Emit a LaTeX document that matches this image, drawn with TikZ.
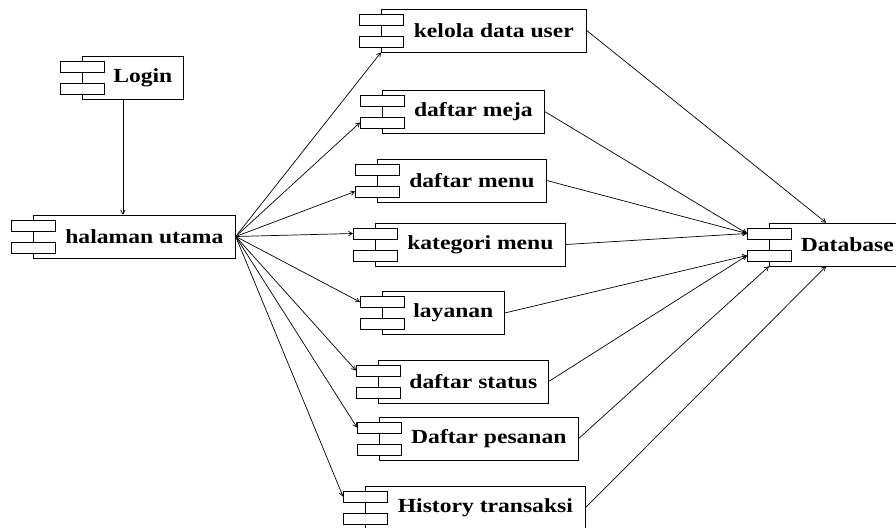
\documentclass[tikz,border=0pt]{standalone}
\usepackage{fontspec}
\newfontfamily\compfont[FakeStretch=1.18]{Liberation Serif}
\usepackage{tikz}
\usetikzlibrary{arrows}

\begin{document}
\begin{tikzpicture}[->,>=angle 60,x=1pt,y=-1pt,line width=0.7pt]

  \tikzstyle{comp}=[draw,fill=white,anchor=west,minimum height=43pt,
                    font=\compfont\bfseries\fontsize{20}{24}\selectfont,
                    execute at begin node=\hspace*{20pt}]

  \clip (0,0) rectangle (896,527);

  \node[comp, minimum width=101pt] (login)    at (82,77.5)   {Login};
  \node[comp, minimum width=202pt] (home)     at (33,236.5)  {halaman utama};
  \node[comp, minimum width=205pt] (kelola)   at (381,30.5)  {kelola data user};
  \node[comp, minimum width=162pt] (meja)     at (382,111.5) {daftar meja};
  \node[comp, minimum width=169pt] (menu)     at (377,180.5) {daftar menu};
  \node[comp, minimum width=190pt] (kategori) at (375,244.5) {kategori menu};
  \node[comp, minimum width=122pt] (layanan)  at (382,313)   {layanan};
  \node[comp, minimum width=170pt] (status)   at (378,381.5) {daftar status};
  \node[comp, minimum width=199pt] (pesanan)  at (379,438.5) {Daftar pesanan};
  \node[comp, minimum width=220pt] (history)  at (365,507.5) {History transaksi};
  \node[comp, minimum width=136pt] (db)       at (769,244.5) {Database};

  % component tabs on the left edge
  \foreach \n in {login,home,kelola,meja,menu,kategori,layanan,status,pesanan,history,db}{
    \draw[-,fill=white] ([xshift=-22pt,yshift=5.5pt]\n.west) rectangle ([xshift=22pt,yshift=16.5pt]\n.west);
    \draw[-,fill=white] ([xshift=-22pt,yshift=-5.5pt]\n.west) rectangle ([xshift=22pt,yshift=-16.5pt]\n.west);
    \coordinate (\n-u) at ([xshift=-22pt,yshift=11pt]\n.west);
    \coordinate (\n-l) at ([xshift=-22pt,yshift=-11pt]\n.west);
  }

  \draw ([xshift=-10pt]login.south) -- ([xshift=-10pt]login.south |- home.north);

  \path (home.east) edge (kelola.south west)
        (home.east) edge (meja-l)
        (home.east) edge (menu-l)
        (home.east) edge (kategori-u)
        (home.east) edge (layanan-u)
        (home.east) edge (status-u)
        (home.east) edge (pesanan-u)
        (home.east) edge (history-u);

  \path (kelola.east)   edge ([xshift=57pt]db.north west)
        (meja.east)     edge (db-u)
        (menu.east)     edge (db-u)
        (kategori.east) edge (db-u)
        (layanan.east)  edge (db-l)
        (status.east)   edge (db-l)
        (pesanan.east)  edge (db.south west)
        (history.east)  edge ([xshift=57pt]db.south west);
\end{tikzpicture}
\end{document}
